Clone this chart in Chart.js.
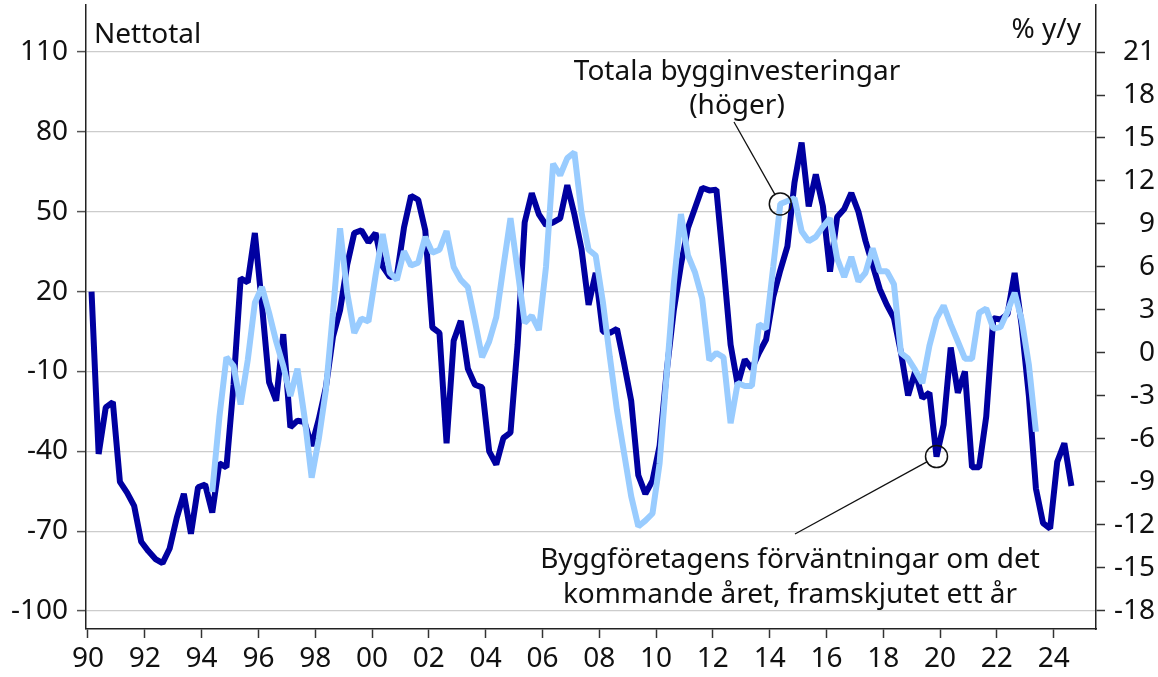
<!DOCTYPE html>
<html>
<head>
<meta charset="utf-8">
<script src="https://cdn.jsdelivr.net/npm/chart.js@4.4.1/dist/chart.umd.min.js"></script>
<style>
  html, body { margin: 0; padding: 0; background: #fff; }
  #wrap { width: 1158px; height: 677px; }
</style>
</head>
<body>
<div id="wrap"><canvas id="chart"></canvas></div>
<script>
// Byggföretagens förväntningar (nettotal), kvartal från 1990 Q1, framskjutet ett år
const expectationsStart = 1990;
const expectations = [
  20, -41, -23.5, -21.5, -51.5, -55.5, -60.5, -74, -77.5, -80.5,
  -82, -76.5, -65, -56, -71, -53.5, -52.5, -63, -44.5, -46,
  -15, 25, 23.5, 42, 15, -14, -21, 4, -31, -28.5,
  -29, -38, -28, -16, 3, 13, 30, 42, 43, 38.5,
  42, 29.5, 25.5, 26, 44, 56, 54.5, 43, 6.5, 4.5,
  -37, 1.5, 9, -9, -15, -16, -40, -45, -35, -33,
  0, 46, 57, 49, 45, 46, 47.5, 60, 49, 36,
  15, 27, 5, 4.5, 6, -7, -21, -49, -56, -51,
  -38, -10, 13, 30, 44, 51.5, 59, 58, 58.3, 30,
  0, -15, -5.5, -9, -3, 2, 18, 28, 37, 61,
  76, 52, 64, 52, 27.5, 48, 51, 57, 50, 39,
  30, 21, 15, 10, -3, -19, -10, -20, -18, -42,
  -30, -1, -18, -10, -46, -46, -27, 10, 9.5, 11.5,
  27, 7, -19, -54, -67, -69, -44, -37, -53
];

// Totala bygginvesteringar, % y/y, kvartal från 1994 Q2
const investmentStart = 1994.25;
const investment = [
  -9.7, -4.5, -0.3, -0.9, -3.6, -0.5, 3.5, 4.6, 2.8, 0.8,
  -0.9, -3.0, -1.1, -4.5, -8.7, -6.0, -2.6, 2.8, 8.7, 4.2,
  1.4, 2.4, 2.2, 5.4, 8.3, 5.6, 5.1, 7.1, 6.1, 6.3,
  8.1, 7.0, 7.2, 8.5, 6.0, 5.1, 4.6, 2.2, -0.3, 0.8,
  2.5, 6.0, 9.4, 5.8, 2.1, 2.6, 1.6, 6.0, 13.2, 12.4,
  13.6, 14.0, 9.8, 7.2, 6.8, 3.6, -0.3, -4.0, -7.0, -10.0,
  -12.1, -11.7, -11.2, -7.7, -1.5, 4.8, 9.7, 6.8, 5.6, 3.8,
  -0.5, 0.0, -0.3, -4.9, -2.1, -2.3, -2.3, 2.0, 1.7, 6.0,
  10.4, 10.6, 10.8, 8.5, 7.8, 8.1, 8.8, 9.4, 6.6, 5.3,
  6.7, 5.0, 5.6, 7.3, 5.7, 5.7, 4.8, 0.0, -0.4, -1.2,
  -2.1, 0.5, 2.4, 3.3, 2.0, 0.8, -0.4, -0.4, 2.8, 3.1,
  1.7, 1.8, 2.9, 4.2, 2.3, -0.8, -5.5
];

const leftTicks = [-100, -70, -40, -10, 20, 50, 80, 110];
const rightTicks = [-18, -15, -12, -9, -6, -3, 0, 3, 6, 9, 12, 15, 18, 21];
const yearTicks = [1990, 1992, 1994, 1996, 1998, 2000, 2002, 2004, 2006, 2008,
  2010, 2012, 2014, 2016, 2018, 2020, 2022, 2024];

const FONT = "'Noto Sans', sans-serif";
const darkBlue = "#0000a0";
const lightBlue = "#99ccff";

// kvartal -> decimalår (mitt i kvartalet)
const toPoints = (start, arr) =>
  arr.map((v, i) => ({ x: start + i * 0.25 + 0.125, y: v }));

// fasta axelbredder, ingen extra kantmarginal för etiketter
const fixSize = (w, h) => (scale) => {
  if (w) scale.width = w;
  if (h) scale.height = h;
  scale.paddingTop = 0;
  scale.paddingBottom = 0;
  scale.paddingLeft = 0;
  scale.paddingRight = 0;
};

const annotations = {
  id: "annotations",
  afterDatasetsDraw(chart) {
    const ctx = chart.ctx;
    const x = chart.scales.x;
    const yl = chart.scales.yLeft;
    const yr = chart.scales.yRight;
    ctx.save();
    ctx.fillStyle = "#111";
    ctx.font = "28px " + FONT;
    ctx.textBaseline = "alphabetic";

    ctx.textAlign = "left";
    ctx.fillText("Nettotal", 94, 43);
    ctx.textAlign = "right";
    ctx.fillText("% y/y", 1081, 38);

    ctx.textAlign = "center";
    ctx.fillText("Totala bygginvesteringar", 737, 80);
    ctx.fillText("(höger)", 737, 114);
    ctx.fillText("Byggföretagens förväntningar om det", 790, 568);
    ctx.fillText("kommande året, framskjutet ett år", 790, 603);

    // ringar kring markerade punkter
    const p1 = toPoints(investmentStart, investment)[97 - 17];
    const c1 = { x: x.getPixelForValue(p1.x), y: yr.getPixelForValue(p1.y) };
    const p2 = toPoints(expectationsStart, expectations)[119];
    const c2 = { x: x.getPixelForValue(p2.x), y: yl.getPixelForValue(p2.y) };
    const r = 11;
    ctx.strokeStyle = "#111";
    ctx.lineWidth = 1.5;
    [c1, c2].forEach((c) => {
      ctx.beginPath();
      ctx.arc(c.x, c.y, r, 0, Math.PI * 2);
      ctx.stroke();
    });

    const leader = (sx, sy, c) => {
      const dx = c.x - sx, dy = c.y - sy;
      const d = Math.sqrt(dx * dx + dy * dy);
      ctx.beginPath();
      ctx.moveTo(sx, sy);
      ctx.lineTo(c.x - (dx / d) * r, c.y - (dy / d) * r);
      ctx.stroke();
    };
    ctx.lineWidth = 1.3;
    leader(734, 122, c1);
    leader(795, 534, c2);
    ctx.restore();
  },
};

new Chart(document.getElementById("chart"), {
  type: "line",
  data: {
    datasets: [
      {
        label: "Totala bygginvesteringar (höger)",
        data: toPoints(investmentStart, investment),
        yAxisID: "yRight",
        borderColor: lightBlue,
        borderWidth: 6,
        pointRadius: 0,
        tension: 0,
        borderJoinStyle: "bevel",
        order: 0,
      },
      {
        label: "Byggföretagens förväntningar",
        data: toPoints(expectationsStart, expectations),
        yAxisID: "yLeft",
        borderColor: darkBlue,
        borderWidth: 6,
        pointRadius: 0,
        tension: 0,
        borderJoinStyle: "bevel",
        order: 1,
      },
    ],
  },
  options: {
    responsive: true,
    maintainAspectRatio: false,
    animation: false,
    layout: { padding: { top: 5, right: 3, left: 0, bottom: 0 } },
    plugins: {
      legend: { display: false },
      tooltip: { enabled: false },
    },
    scales: {
      x: {
        type: "linear",
        min: 1989.93,
        max: 2025.49,
        afterBuildTicks: (scale) => {
          scale.ticks = yearTicks.map((v) => ({ value: v }));
        },
        afterFit: fixSize(0, 48),
        ticks: {
          autoSkip: false,
          maxRotation: 0,
          padding: 4,
          color: "#111",
          font: { family: FONT, size: 28 },
          callback: (v) => String(v).slice(2),
        },
        grid: {
          drawOnChartArea: false,
          tickLength: 9,
          tickColor: "#333",
          tickWidth: 1.5,
        },
        border: { display: true, color: "#222", width: 1.5 },
      },
      yLeft: {
        type: "linear",
        position: "left",
        min: -106.76,
        max: 127.66,
        afterBuildTicks: (scale) => {
          scale.ticks = leftTicks.map((v) => ({ value: v }));
        },
        afterFit: fixSize(86, 0),
        ticks: {
          padding: 9,
          color: "#111",
          font: { family: FONT, size: 28 },
        },
        grid: {
          color: "#cccccc",
          lineWidth: 1.2,
          tickLength: 9,
          tickColor: "#555",
          tickWidth: 1.5,
        },
        border: { display: true, color: "#222", width: 1.5 },
      },
      yRight: {
        type: "linear",
        position: "right",
        min: -19.26,
        max: 24.28,
        afterBuildTicks: (scale) => {
          scale.ticks = rightTicks.map((v) => ({ value: v }));
        },
        afterFit: fixSize(59, 0),
        ticks: {
          crossAlign: "far",
          color: "#111",
          font: { family: FONT, size: 28 },
        },
        grid: {
          drawOnChartArea: false,
          tickLength: 9,
          tickColor: "#333",
          tickWidth: 1.5,
        },
        border: { display: true, color: "#222", width: 1.5 },
      },
    },
  },
  plugins: [annotations],
});
</script>
</body>
</html>
